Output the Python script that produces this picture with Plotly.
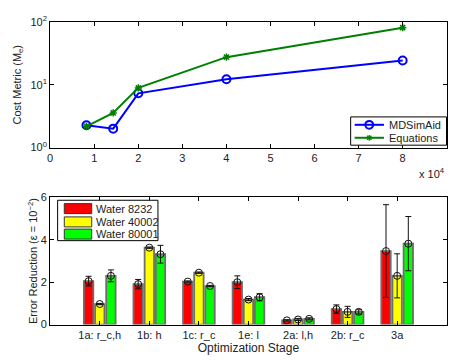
import plotly.graph_objects as go

# ---- top chart data ----
sizes = [8232, 14300, 20000, 40002, 80001]
md_cost = [2.27, 2.0, 7.3, 12.2, 24.3]
eq_cost = [2.18, 3.56, 8.9, 27.5, 81.0]

# ---- bottom chart data ----
stages = ["1a: r_c,h", "1b: h", "1c: r_c", "1e: l", "2a: l,h", "2b: r_c", "3a"]
w8232 = [2.05, 1.91, 2.03, 2.0, 0.2, 0.73, 3.47]
w8232_err = [0.23, 0.22, 0.03, 0.3, 0.03, 0.2, 2.19]
w40002 = [0.97, 3.63, 2.45, 1.18, 0.24, 0.6, 2.3]
w40002_err = [0.03, 0.03, 0.03, 0.05, 0.05, 0.26, 1.04]
w80001 = [2.3, 3.32, 1.82, 1.29, 0.27, 0.6, 3.82]
w80001_err = [0.28, 0.42, 0.03, 0.17, 0.05, 0.1, 1.28]

FONT = "Liberation Sans, Arial, sans-serif"
TXT = "#222222"
W, H = 449, 362


def px(x):
    return x / W


def py(y):
    return 1 - y / H


fig = go.Figure()

line_series = [("MDSimAid", md_cost, "#0000ff", "circle"),
               ("Equations", eq_cost, "#008000", "asterisk")]
for name, vals, col, sym in line_series:
    marker = (dict(symbol="circle-open", size=8, color=col, line=dict(width=2)) if sym == "circle"
              else dict(symbol="asterisk-open", size=6, color=col, line=dict(width=1.5, color=col)))
    fig.add_trace(go.Scatter(x=[s / 1e4 for s in sizes], y=vals, mode="lines+markers", name=name,
                             line=dict(color=col, width=2), marker=marker, showlegend=False,
                             xaxis="x", yaxis="y"))

series = [("Water 8232", w8232, w8232_err, "#ff0000"),
          ("Water 40002", w40002, w40002_err, "#ffff00"),
          ("Water 80001", w80001, w80001_err, "#00ff00")]
offsets = [-0.225, 0.0, 0.225]
xs = list(range(1, len(stages) + 1))
for (name, vals, errs, col), off in zip(series, offsets):
    fig.add_trace(go.Bar(x=[x + off for x in xs], y=vals, width=0.19, name=name, showlegend=False,
                         marker=dict(color=col, line=dict(color="#6e6e6e", width=1.8)),
                         xaxis="x2", yaxis="y2"))
for (name, vals, errs, col), off in zip(series, offsets):
    fig.add_trace(go.Scatter(x=[x + off for x in xs], y=vals, mode="markers", showlegend=False,
                             marker=dict(symbol="circle-open", size=7, color="#111111", line=dict(width=1)),
                             error_y=dict(type="data", array=errs, color="#111111", thickness=1, width=3),
                             xaxis="x2", yaxis="y2"))

shapes = []
annotations = []

# ---- custom legend, top chart ----
shapes.append(dict(type="rect", xref="paper", yref="paper", x0=px(350), x1=px(446.5), y0=py(142.7), y1=py(113.3),
                   line=dict(color="black", width=1), fillcolor="white", layer="above"))
rows_top = [121.5, 135.0]
for (name, vals, col, sym), ry in zip(line_series, rows_top):
    shapes.append(dict(type="line", xref="paper", yref="paper", x0=px(354), x1=px(383.5), y0=py(ry), y1=py(ry),
                       line=dict(color=col, width=2), layer="above"))
    cx = 368.7
    if sym == "circle":
        shapes.append(dict(type="circle", xref="paper", yref="paper", x0=px(cx - 4), x1=px(cx + 4),
                           y0=py(ry + 4), y1=py(ry - 4), line=dict(color=col, width=2), layer="above"))
    else:
        for dx, dy in [(3, 0), (0, 3), (2.2, 2.2), (2.2, -2.2)]:
            shapes.append(dict(type="line", xref="paper", yref="paper", x0=px(cx - dx), x1=px(cx + dx),
                               y0=py(ry - dy), y1=py(ry + dy), line=dict(color=col, width=1.3), layer="above"))
    annotations.append(dict(text=name, xref="paper", yref="paper", x=px(386.5), y=py(ry), xanchor="left",
                            yanchor="middle", showarrow=False, font=dict(family=FONT, size=11, color=TXT)))

# ---- custom legend, bottom chart ----
shapes.append(dict(type="rect", xref="paper", yref="paper", x0=px(55), x1=px(156), y0=py(242), y1=py(200),
                   line=dict(color="black", width=1), fillcolor="white", layer="above"))
rows_bot = [208.7, 222.5, 235.2]
for (name, vals, errs, col), ry in zip(series, rows_bot):
    shapes.append(dict(type="rect", xref="paper", yref="paper", x0=px(61.7), x1=px(89.3), y0=py(ry + 5.2),
                       y1=py(ry - 5.2), line=dict(color="#333333", width=1), fillcolor=col, layer="above"))
    annotations.append(dict(text=name, xref="paper", yref="paper", x=px(91.5), y=py(ry), xanchor="left",
                            yanchor="middle", showarrow=False, font=dict(family=FONT, size=11, color=TXT)))

annotations.append(dict(text="x 10<sup>4</sup>", xref="paper", yref="paper", x=0.995, y=py(172),
                        xanchor="right", yanchor="middle", showarrow=False,
                        font=dict(family=FONT, size=11, color=TXT)))

axis_common = dict(showline=True, linecolor="black", linewidth=1, mirror="ticks", ticks="inside",
                   ticklen=4, tickcolor="black", showgrid=False, zeroline=False,
                   tickfont=dict(family=FONT, size=11, color=TXT))

fig.update_layout(
    width=W, height=H, margin=dict(l=0, r=0, t=0, b=0),
    paper_bgcolor="white", plot_bgcolor="white",
    font=dict(family=FONT, size=11, color=TXT),
    barmode="overlay", showlegend=False,
    xaxis=dict(domain=[0.1058, 0.9949], anchor="y", range=[0, 9], tickvals=list(range(10)), **axis_common),
    yaxis=dict(domain=[0.599, 0.960], anchor="x", type="log", range=[0, 2],
               tickvals=[1, 10, 100], ticktext=["10<sup>0</sup>", "10<sup>1</sup>", "10<sup>2</sup>"],
               title=dict(text="Cost Metric (M<sub>e</sub>)", font=dict(family=FONT, size=11, color=TXT), standoff=6),
               **axis_common),
    xaxis2=dict(domain=[0.1058, 0.9949], anchor="y2", range=[0, 8], tickvals=xs, ticktext=stages,
                title=dict(text="Optimization Stage", font=dict(family=FONT, size=12, color=TXT), standoff=1),
                **axis_common),
    yaxis2=dict(domain=[0.0903, 0.4555], anchor="x2", range=[0, 6], tickvals=[0, 2, 4, 6],
                title=dict(text="Error Reduction (ε = 10<sup>−2</sup>)", font=dict(family=FONT, size=11, color=TXT), standoff=0),
                **axis_common),
    shapes=shapes,
    annotations=annotations,
)

fig.write_html("out.html")
